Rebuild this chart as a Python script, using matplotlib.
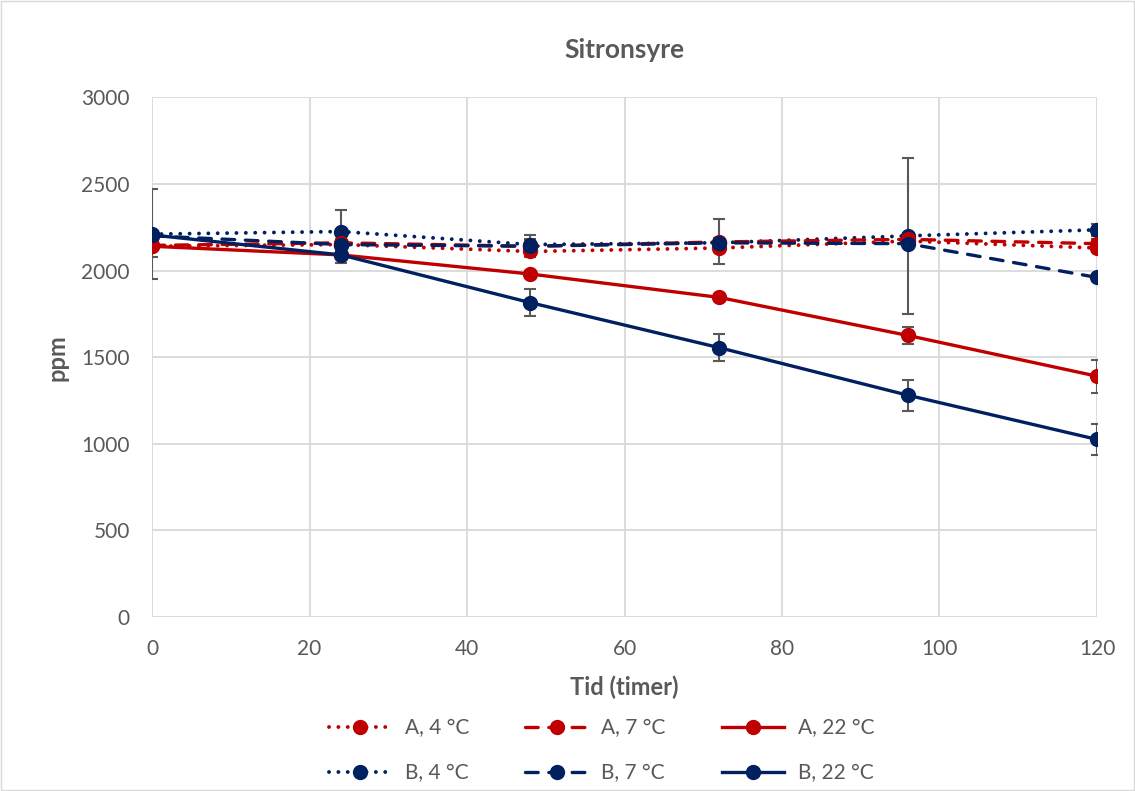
import matplotlib.pyplot as plt
from matplotlib.lines import Line2D

plt.rcParams['font.family'] = ['Lato', 'DejaVu Sans']

# data
tid = [0, 24, 48, 72, 96, 120]

a4 = [2140, 2150, 2110, 2130, 2170, 2130]
a7 = [2145, 2160, 2140, 2165, 2180, 2155]
a22 = [2140, 2090, 1980, 1845, 1625, 1390]
b4 = [2210, 2225, 2150, 2160, 2200, 2235]
b7 = [2200, 2150, 2140, 2160, 2155, 1960]
b22 = [2205, 2090, 1815, 1555, 1280, 1025]

a4_err = [20, 20, 30, 25, 20, 25]
a7_err = [20, 20, 30, 130, 20, 25]
a22_err = [60, 20, 20, 20, 50, 95]
b4_err = [260, 125, 55, 30, 450, 35]
b7_err = [20, 20, 40, 25, 20, 20]
b22_err = [20, 45, 80, 80, 90, 88]

red = '#C00000'
navy = '#002060'
grey = '#595959'

dot = (0, (0.01, 2.4))
dash = (0, (3.8, 3.2))

series = [
    ('A, 4 °C', a4, a4_err, red, dot),
    ('B, 4 °C', b4, b4_err, navy, dot),
    ('A, 7 °C', a7, a7_err, red, dash),
    ('B, 7 °C', b7, b7_err, navy, dash),
    ('A, 22 °C', a22, a22_err, red, '-'),
    ('B, 22 °C', b22, b22_err, navy, '-'),
]

fig = plt.figure(figsize=(11.35, 7.91), dpi=100)
ax = fig.add_axes([0.134, 0.22, 0.8325, 0.657])

handles = []
for label, y, err, col, ls in series:
    lw = 2.8 if ls is dot else 2.4
    ax.errorbar(tid, y, yerr=err, fmt='none', ecolor=grey, elinewidth=1.5,
                capsize=4, capthick=1.5, zorder=2)
    ax.plot(tid, y, color=col, linestyle=ls, linewidth=lw, marker='o',
            markersize=10, zorder=3, dash_capstyle='round')
    handles.append(Line2D([], [], color=col, linestyle=ls, linewidth=lw,
                          marker='o', markersize=10, label=label,
                          dash_capstyle='round'))

ax.set_xlim(0, 120)
ax.set_ylim(0, 3000)
ax.set_xticks(range(0, 121, 20))
ax.set_yticks(range(0, 3001, 500))
ax.grid(True, color='#D9D9D9', linewidth=1.3)
ax.set_axisbelow(True)
for s in ax.spines.values():
    s.set_visible(False)
ax.tick_params(length=0, labelsize=15, colors=grey)
ax.tick_params(axis='x', pad=16)
ax.tick_params(axis='y', pad=16)

ax.set_title('Sitronsyre', fontsize=19, fontweight='bold', color=grey, pad=28)
ax.set_xlabel('Tid (timer)', fontsize=17, fontweight='bold', color=grey, labelpad=12)
ax.set_ylabel('ppm', fontsize=17, fontweight='bold', color=grey, labelpad=9)

leg = fig.legend(handles=handles, ncol=3, loc='lower center',
                 bbox_to_anchor=(0.53, -0.014), frameon=False, fontsize=15,
                 handlelength=3.0, columnspacing=2.7, labelspacing=1.2,
                 handletextpad=0.65)
for t in leg.get_texts():
    t.set_color(grey)

fig.patches.append(plt.Rectangle((0.001, 0.001), 0.998, 0.998, transform=fig.transFigure,
                                 fill=False, edgecolor='#D9D9D9', linewidth=1))

fig.savefig('out.png', dpi=100)
